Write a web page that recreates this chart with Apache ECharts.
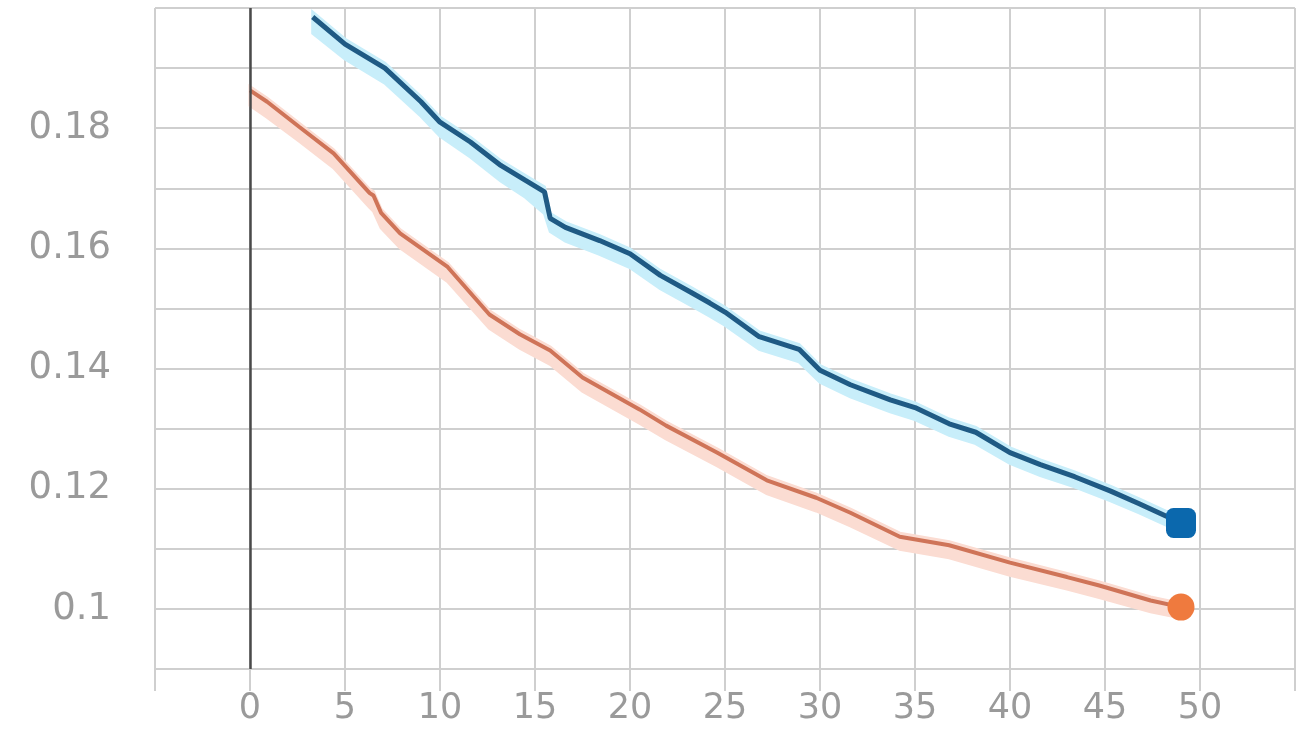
<!DOCTYPE html>
<html>
<head>
<meta charset="utf-8">
<script src="https://cdn.jsdelivr.net/npm/echarts@6/dist/echarts.min.js"></script>
<style>
  html, body { margin: 0; padding: 0; background: #ffffff; }
  #chart { width: 1296px; height: 751px; }
</style>
</head>
<body>
<div id="chart"></div>
<script>
// ---- data ----
const xTickLabels = [0, 5, 10, 15, 20, 25, 30, 35, 40, 45, 50];
const yTickLabels = [0.1, 0.12, 0.14, 0.16, 0.18];

const blueX  = [3.3, 5, 7.1, 9, 10, 11.6, 13.2, 14.5, 15.5, 15.8, 16.6, 18.4, 20, 21.6, 23.2, 24.2, 25, 26.8, 28.9, 30, 31.6, 33.7, 35, 36.8, 38.2, 40, 41.6, 43.4, 45.3, 46.8, 49];
const blueY  = [0.1985, 0.194, 0.190, 0.1844, 0.181, 0.1777, 0.1738, 0.1713, 0.1694, 0.165, 0.1635, 0.1613, 0.1591, 0.1555, 0.1527, 0.1509, 0.1494, 0.1453, 0.1432, 0.1397, 0.1373, 0.1348, 0.1335, 0.1308, 0.1294, 0.126, 0.124, 0.122, 0.1196, 0.1175, 0.1143];
const blueLo = [0.1958, 0.1915, 0.1875, 0.182, 0.1787, 0.1752, 0.1712, 0.1685, 0.1658, 0.1628, 0.1612, 0.159, 0.1568, 0.1533, 0.1505, 0.1487, 0.1472, 0.1432, 0.1411, 0.1377, 0.1353, 0.1328, 0.1315, 0.1289, 0.1275, 0.1242, 0.1222, 0.1203, 0.118, 0.116, 0.1128];
const blueHi = [0.1993, 0.1948, 0.1908, 0.1852, 0.1818, 0.1785, 0.1746, 0.1721, 0.1702, 0.1658, 0.1643, 0.1621, 0.1599, 0.1563, 0.1535, 0.1517, 0.1502, 0.1461, 0.144, 0.1405, 0.1381, 0.1356, 0.1343, 0.1316, 0.1302, 0.1268, 0.1248, 0.1228, 0.1204, 0.1183, 0.1151];

const orangeX  = [0, 0.9, 2.6, 4.4, 6.3, 6.5, 6.9, 7.9, 10.4, 12.6, 14.2, 15.8, 17.5, 20.5, 21.9, 24.6, 27.2, 29.8, 31.6, 34.2, 36.8, 40, 43, 44.7, 47.4, 49];
const orangeY  = [0.1863, 0.1844, 0.1802, 0.1758, 0.1692, 0.1688, 0.1659, 0.1625, 0.1569, 0.149, 0.1457, 0.143, 0.1385, 0.1332, 0.1305, 0.126, 0.1214, 0.1185, 0.116, 0.112, 0.1106, 0.1077, 0.1053, 0.1039, 0.1014, 0.1003];
const orangeLo = [0.1838, 0.1818, 0.1778, 0.1734, 0.1668, 0.1662, 0.1634, 0.1601, 0.1545, 0.1467, 0.1434, 0.1407, 0.1362, 0.1309, 0.1283, 0.1238, 0.1192, 0.1163, 0.1138, 0.1099, 0.1085, 0.1056, 0.1033, 0.1019, 0.0995, 0.0985];
const orangeHi = [0.1869, 0.185, 0.1808, 0.1764, 0.1698, 0.1694, 0.1665, 0.1631, 0.1575, 0.1496, 0.1463, 0.1436, 0.1391, 0.1338, 0.1311, 0.1266, 0.122, 0.1191, 0.1166, 0.1126, 0.1112, 0.1083, 0.1059, 0.1045, 0.102, 0.1009];

// ---- build chart ----
const pairs = (xs, ys) => xs.map((x, i) => [x, ys[i]]);

const gridColor = '#cfcfcf';
const labelColor = '#9a9a9a';

// confidence band drawn as a polygon through the axis scales
function bandSeries(name, xs, lo, hi, color) {
  return {
    name: name, type: 'custom', silent: true, z: 1,
    data: [0],
    renderItem: function (params, api) {
      const top = xs.map((x, i) => api.coord([x, hi[i]]));
      const bot = xs.map((x, i) => api.coord([x, lo[i]])).reverse();
      return {
        type: 'polygon',
        shape: { points: top.concat(bot) },
        style: { fill: color, stroke: color, lineWidth: 3 }
      };
    }
  };
}

function endPoint(xs, ys, i) { return [[xs[i], ys[i]]]; }

const chart = echarts.init(document.getElementById('chart'));
chart.setOption({
  animation: false,
  backgroundColor: '#ffffff',
  grid: { left: 155, right: 1, top: 8, bottom: 82, containLabel: false, outerBoundsMode: 'none' },
  xAxis: {
    type: 'value', min: -5, max: 55, interval: 5,
    axisLine: { show: false },
    axisTick: { show: true, length: 22, lineStyle: { color: gridColor, width: 2 } },
    splitLine: { show: true, lineStyle: { color: gridColor, width: 2 } },
    axisLabel: {
      color: labelColor, fontSize: 35, fontFamily: 'DejaVu Sans', margin: 22,
      formatter: v => (xTickLabels.indexOf(Math.round(v)) >= 0 && Math.abs(v - Math.round(v)) < 1e-6) ? String(Math.round(v)) : ''
    }
  },
  yAxis: {
    type: 'value', min: 0.09, max: 0.2, interval: 0.01,
    axisLine: { show: false },
    axisTick: { show: true, length: 26, lineStyle: { color: gridColor, width: 2 } },
    splitLine: { show: true, lineStyle: { color: gridColor, width: 2 } },
    axisLabel: {
      color: labelColor, fontSize: 37, fontFamily: 'DejaVu Sans', margin: 44,
      formatter: v => {
        const r = Math.round(v * 100) / 100;
        return yTickLabels.some(t => Math.abs(t - r) < 1e-9) ? String(r) : '';
      }
    }
  },
  series: [
    bandSeries('orangeBand', orangeX, orangeLo, orangeHi, '#fbdcd2'),
    bandSeries('blueBand', blueX, blueLo, blueHi, '#c8eefa'),
    {
      name: 'zero', type: 'line', data: [], silent: true,
      markLine: { symbol: 'none', silent: true, label: { show: false },
        lineStyle: { color: '#4a4a4a', width: 2.5, type: 'solid', opacity: 1 },
        data: [{ xAxis: 0 }] }
    },
    { name: 'orange', type: 'line', data: pairs(orangeX, orangeY), symbol: 'none', z: 3,
      lineStyle: { color: '#cf7458', width: 4 } },
    { name: 'blue', type: 'line', data: pairs(blueX, blueY), symbol: 'none', z: 3,
      lineStyle: { color: '#1f5a84', width: 5 } },
    { name: 'orangeEnd', type: 'scatter', data: endPoint(orangeX, orangeY, orangeX.length - 1),
      symbol: 'circle', symbolSize: 27, itemStyle: { color: '#ef7a3e', opacity: 1 }, z: 4 },
    { name: 'blueEnd', type: 'scatter', data: endPoint(blueX, blueY, blueX.length - 1),
      symbol: 'roundRect', symbolSize: 30, itemStyle: { color: '#0b68ad', opacity: 1 }, z: 4 }
  ]
});
</script>
</body>
</html>
